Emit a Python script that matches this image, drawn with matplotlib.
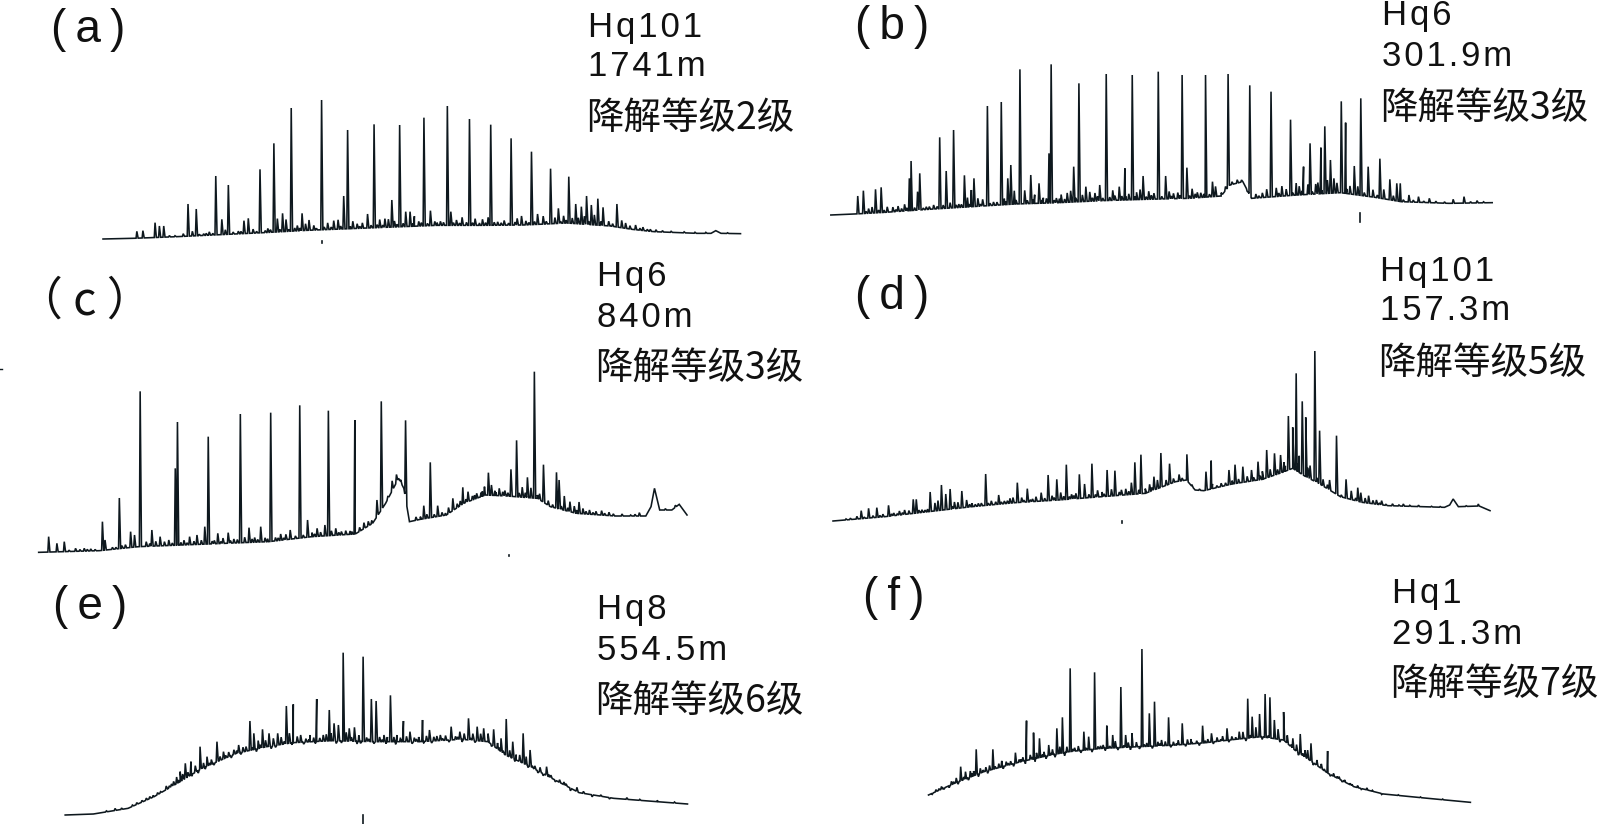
import numpy as np
import matplotlib
matplotlib.use("Agg")
import matplotlib.pyplot as plt

W, H = 1600, 824
INK = "#0e181e"
CJK = ["Noto Sans CJK SC", "DejaVu Sans"]
LAT = ["Liberation Sans", "DejaVu Sans"]

a_base_x = [30,100,200,300,400,500,600,700,800,900,1000,1100,1200,1250,1300,1400,1432,1443,1455,1500]
a_base_y = [447,445,440,434,428,421,416,411,406,406,405,399,408,418,425,430,430,422,430,431]
a_peak_x = [108,122,150,160,170,226,245,290,304,319,355,365,392,424,444,464,489,505,534,585,594,640,655,696,714,728,738,770,785,824,832,875,918,924,971,995,1018,1032,1062,1080,1104,1120,1133,1145,1156,1171,1183,1215]
a_peak_y = [424,422,398,408,408,342,357,258,388,285,392,385,238,160,370,54,370,390,30,318,120,372,103,330,105,365,365,83,362,48,365,87,382,104,145,378,185,372,236,355,260,342,350,318,345,326,352,342]
a_grass_x = [215,236,262,275,312,342,376,410,432,452,478,497,516,548,562,572,606,616,628,668,680,688,702,748,758,795,808,845,858,888,905,940,955,985,1005,1045,1072,1092,1112,1126,1140,1163,1196,1226,1235,1258,1275,1292,1320,
             183,196,252,268,283,330,348,384,404,416,438,458,472,484,522,540,556,578,600,622,648,662,675,708,722,745,764,778,800,815,838,852,868,882,898,912,932,948,965,980,1012,1025,1052,1085,1098,1150,1178,1205,1245,1268,1285,1305,1340,1370,1395,1420,1470]
a_grass_h = [8,14,5,10,14,8,12,12,40,36,16,20,14,20,26,28,22,14,16,24,26,24,18,30,14,12,12,16,24,20,18,10,14,20,12,24,18,22,16,18,24,30,14,22,16,14,10,6,4,
             4,3,4,6,5,6,7,5,6,8,7,6,9,8,5,8,7,9,7,6,8,9,7,8,10,9,10,7,8,9,8,7,9,8,7,8,9,7,6,9,7,9,8,6,9,10,12,8,10,6,5,6,3,3,3,3,2]

b_base_x = [25,80,150,250,350,450,550,650,750,850,925,945,975,995,1100,1200,1280,1340,1450,1550]
b_base_y = [495,492,487,478,470,462,458,452,448,445,438,405,395,445,435,428,442,455,460,458]
b_peak_x = [87,100,128,141,206,210,225,230,276,291,308,333,349,355,386,418,433,440,461,486,505,528,533,585,597,613,645,660,690,703,720,745,780,797,835,846,889,905,941,991,1040,1085,1115,1130,1155,1164,1177,1202,1212,1232,1247,1264,1291,1314,1330,1338,1358,1380,1405,1460,1485,1515]
b_peak_y = [438,422,418,412,385,333,425,370,262,363,240,376,420,385,168,156,385,345,58,375,400,310,43,350,100,410,405,72,410,355,75,378,65,378,75,353,75,395,72,106,125,209,350,280,293,229,330,154,218,348,145,350,326,388,400,400,435,440,445,448,440,452]
b_grass_x = [112,120,155,168,180,195,245,262,300,320,340,364,375,400,425,448,472,495,515,545,556,570,578,605,622,634,675,680,712,730,738,758,770,805,815,825,858,870,878,912,1005,1020,1030,1052,1065,1075,1098,1105,1125,1143,1148,1170,1185,1192,1222,1240,1275,1300,1322,
             106,135,148,175,188,200,218,238,252,270,284,314,326,344,370,392,408,428,452,478,492,512,522,540,552,564,590,628,640,652,668,696,706,726,752,764,788,810,830,852,865,885,898,925,935,950,962,972,985,1012,1058,1090,1112,1135,1158,1215,1255,1285,1345,1368,1392,1420,1440,1500,1530]
b_grass_h = [14,18,16,14,16,20,8,12,16,10,28,24,20,10,18,40,40,26,16,14,24,28,34,20,28,24,30,14,18,22,30,24,18,22,16,18,28,16,14,30,12,14,24,26,30,20,36,26,30,30,34,40,44,30,24,26,22,28,14,
             6,8,7,6,8,9,8,5,8,7,10,8,9,8,6,7,9,10,12,10,12,10,14,8,12,10,12,10,14,8,10,12,10,10,8,12,8,8,10,8,12,10,8,10,12,8,10,6,-4,6,10,8,12,8,10,14,10,8,6,6,4,5,4,4,3]

c_base_x = [20,160,250,350,450,550,650,750,790,820,850,862,875,900,960,1000,1050,1100,1170,1200,1260,1350,1420,1432,1440,1452,1480,1497,1515]
c_base_y = [577,572,560,555,550,545,530,522,490,430,355,385,485,478,465,430,405,408,415,440,460,468,468,440,385,450,450,433,465]
c_peak_x = [43,62,79,105,125,167,173,206,232,241,254,281,300,320,335,340,368,385,403,411,433,457,485,505,532,555,578,600,622,640,662,680,688,705,728,749,770,800,810,866,908,923,940,975,998,1010,1030,1048,1057,1064,1082,1109,1122,1147,1163,1184,1214,1220,1232,1245,1266,1290,1318]
c_peak_y = [530,550,545,565,565,485,540,414,515,525,94,510,530,540,325,186,530,525,500,230,520,518,162,503,500,158,522,510,136,480,505,495,152,505,512,180,488,420,124,181,437,307,437,415,382,395,400,380,338,375,385,328,241,352,35,314,337,360,408,425,426,450,452]
c_grass_x = [140,150,190,220,268,290,310,355,378,395,425,445,470,495,518,542,566,590,612,650,670,695,718,738,760,780,835,845,890,915,950,965,985,1020,1040,1072,1095,1135,1155,1175,1195,1255,1275,1305,1335,1365,1405,
             90,115,132,198,212,276,328,348,362,420,440,462,478,512,525,548,572,585,630,656,712,742,788,825,855,900,932,958,992,1005,1025,1043,1075,1090,1102,1128,1142,1170,1205,1225,1240,1260,1282,1298,1325,1345,1385,1395,1465,1488]
c_grass_h = [6,4,6,10,14,14,12,14,10,12,10,16,12,16,14,12,10,16,8,12,12,14,10,10,12,14,30,24,10,12,10,18,12,12,12,14,16,30,30,18,14,20,16,10,10,6,10,
             4,5,5,5,8,8,7,8,6,8,6,8,10,10,8,9,8,6,8,8,8,8,10,8,8,8,8,6,14,10,12,14,10,12,10,12,14,10,8,10,10,10,8,6,6,6,3,5,4,6]

d_base_x = [30,150,250,350,450,550,650,750,820,845,865,885,950,1020,1060,1090,1120,1150,1200,1250,1310,1440,1452,1460,1472,1520,1545]
d_base_y = [543,530,515,500,488,480,470,460,425,420,450,452,432,418,400,385,410,430,470,487,497,502,495,477,500,498,512]
d_peak_x = [95,112,131,158,183,195,215,222,254,280,290,300,327,338,382,412,438,455,478,510,526,546,568,598,610,627,662,680,718,726,740,770,786,806,846,890,902,943,957,975,995,1010,1030,1048,1062,1080,1090,1098,1112,1120,1141,1152,1175,1191,1213,1240,1247,1265,1283,1295,1345]
d_peak_y = [512,505,503,496,513,510,478,478,456,435,462,447,453,480,402,465,475,428,446,458,405,418,374,403,432,371,390,392,428,367,344,410,339,371,343,395,362,390,374,380,390,365,330,340,345,228,262,100,184,232,33,272,420,287,418,443,458,467,480,482,492]
d_grass_x = [70,85,122,145,170,205,235,265,272,310,318,350,365,395,425,445,465,490,498,535,555,580,590,640,650,672,695,705,750,760,778,798,815,828,905,925,965,985,1020,1038,1070,1105,1130,1160,1225,1257,1275,1320,1380,1518,
             60,102,138,165,178,190,228,242,248,305,345,358,372,388,405,418,432,470,485,518,540,562,575,585,620,635,655,690,712,735,765,835,858,875,915,935,950,1000,1015,1055,1073,1102,1125,1146,1170,1202,1235,1290,1305,1335,1360,1410,1430,1490]
d_grass_h = [4,8,6,8,8,10,8,24,30,20,18,10,8,12,8,16,14,8,14,14,22,14,16,20,14,20,16,18,14,22,26,16,12,20,14,10,12,16,24,22,28,50,40,20,26,14,10,6,4,6,
             3,4,5,6,4,6,8,6,8,8,8,6,8,6,8,6,8,6,6,8,8,10,8,10,10,8,8,10,10,12,10,8,4,4,6,8,10,10,12,14,16,24,30,14,12,6,8,5,3,3,3,2,2,2]

e_base_x = [35,100,180,240,300,350,430,500,560,650,750,850,950,1010,1050,1100,1150,1220,1300,1400,1470]
e_base_y = [525,522,505,470,425,385,340,320,308,302,305,305,298,305,345,375,410,458,475,485,492]
e_peak_x = [200,268,300,312,325,346,362,385,400,435,461,470,490,505,525,545,561,578,600,615,630,644,655,665,676,690,702,722,741,752,770,785,800,815,830,859,875,900,925,945,965,985,1000,1023,1040,1052,1067,1091,1107,1145,1215]
e_peak_y = [488,438,395,370,365,320,350,305,335,315,243,280,268,280,280,198,193,285,285,177,285,210,250,255,38,265,262,50,177,183,285,166,285,243,275,240,270,285,260,275,235,260,265,268,295,237,305,280,330,380,442]
e_grass_x = [150,230,255,285,292,306,318,335,354,372,392,412,424,445,452,480,497,515,533,552,570,590,608,622,637,648,683,695,712,730,760,778,793,808,822,840,850,868,885,892,912,935,955,975,993,1010,1032,1060,1075,1083,1098,1118,1130,1155,1175,1190,
             130,165,190,212,222,238,248,275,280,296,328,342,358,368,378,405,418,430,440,466,476,485,510,520,540,558,585,597,612,660,672,708,716,735,747,766,775,797,812,835,845,862,880,905,920,940,950,970,980,1018,1036,1045,1072,1102,1112,1125,1137,1150,1165,1185,1200,1230,1250,1270,1290,1330,1360,1400,1440]
e_grass_h = [6,6,4,12,20,18,14,20,14,14,12,14,14,14,14,24,20,22,22,30,18,10,12,10,20,22,26,12,18,12,14,14,14,12,16,12,14,16,12,14,14,10,18,20,22,24,18,20,16,20,24,10,14,8,8,6,
             3,4,4,5,6,5,6,6,8,8,-6,-8,-7,6,-6,8,-7,8,-6,8,-8,10,-8,-6,8,-6,-6,8,-6,-8,-6,-8,-6,8,-6,6,-6,-8,6,-6,8,-6,-6,6,-6,8,-8,6,-6,-6,8,8,-6,-6,6,-6,-6,6,-5,8,-8,6,-6,4,-4,5,3,4,3,3,2,2,2]

f_base_x = [50,120,200,300,380,430,520,620,720,800,880,950,1010,1040,1080,1130,1200,1280,1400,1515]
f_base_y = [465,430,395,365,345,335,325,320,315,308,298,290,300,330,360,400,440,462,475,487]
f_peak_x = [100,137,150,179,190,224,260,285,315,334,350,375,397,412,433,470,483,499,532,548,570,583,600,627,647,661,680,699,736,760,791,815,857,890,913,925,945,960,973,985,1010,1035,1055,1084,1129,1160,1190]
f_peak_y = [440,380,395,328,385,328,365,338,242,278,295,315,265,232,85,275,290,97,257,285,141,285,280,27,220,185,300,232,250,297,257,280,265,275,176,230,222,162,172,240,216,295,282,310,333,410,430]
f_grass_x = [70,85,112,125,163,172,205,215,240,248,272,295,305,325,342,362,385,405,424,445,455,515,522,555,590,612,640,670,690,712,725,750,775,805,830,845,870,900,935,995,1020,1045,1068,1075,1100,1112,1145,1175,1210,1235,
             60,78,92,106,118,130,145,158,168,185,198,210,230,252,265,280,300,312,330,338,358,368,380,392,418,440,462,476,492,508,528,540,562,578,596,620,633,655,675,705,720,745,762,782,798,820,840,862,880,908,920,952,968,1000,1030,1050,1062,1090,1120,1136,1155,1168,1195,1220,1250,1275,1320,1380,1440]
f_grass_h = [6,8,10,14,18,14,12,14,12,18,10,8,12,14,16,14,16,20,16,10,14,8,10,20,14,14,10,12,12,10,14,14,8,10,12,14,10,20,30,30,24,20,20,26,16,14,8,6,6,6,
             -3,5,-4,-6,6,-7,8,-7,8,-8,6,-8,7,-7,6,-8,7,-9,6,-9,7,-8,6,-9,-10,7,-7,6,-8,7,-7,6,-7,6,-8,-7,6,-7,6,-6,5,-6,6,-7,6,-6,5,-6,6,-8,8,-8,6,-8,6,-8,6,-7,5,-5,5,-4,4,-3,3,-3,2,2,2]

labels = ["(\u2009a\u2009)", "(\u2009b\u2009)", "（ c ）", "(\u2009d\u2009)", "(\u2009e\u2009)", "(\u2009f\u2009)"]
wells = ["Hq101", "Hq6", "Hq6", "Hq101", "Hq8", "Hq1"]
depths = ["1741m", "301.9m", "840m", "157.3m", "554.5m", "291.3m"]
grades = ["降解等级2级", "降解等级3级", "降解等级3级", "降解等级5级", "降解等级6级", "降解等级7级"]

# small stray marks on the scan: panel, x, top, bottom
mark_panel = [0, 1, 2, 3, 4]
mark_x = [535, 1245, 1105, 696, 722]
mark_top = [454, 489, 584, 542, 524]
mark_bottom = [460, 516, 588, 548, 552]

panels = [
    (a_base_x, a_base_y, a_peak_x, a_peak_y, a_grass_x, a_grass_h),
    (b_base_x, b_base_y, b_peak_x, b_peak_y, b_grass_x, b_grass_h),
    (c_base_x, c_base_y, c_peak_x, c_peak_y, c_grass_x, c_grass_h),
    (d_base_x, d_base_y, d_peak_x, d_peak_y, d_grass_x, d_grass_h),
    (e_base_x, e_base_y, e_peak_x, e_peak_y, e_grass_x, e_grass_h),
    (f_base_x, f_base_y, f_peak_x, f_peak_y, f_grass_x, f_grass_h),
]
# axes box of each trace on the page: left, top, width, height (px)
boxes = [(90,90,680,160), (820,50,680,190), (30,360,680,210),
         (820,340,680,200), (50,640,680,184), (910,640,580,184)]
label_xy = [(51,30), (855,27), (17,301), (855,297), (53,607), (863,598)]
text_x = [588, 1382, 597, 1380, 597, 1392]
text_y = [(27,66,118), (15,57,108), (276,318,368), (271,311,363), (609,650,701), (593,634,684)]


def trace(bx, by, px, py, gx, gh):
    """Join baseline, main peaks and small peaks into one chromatogram line."""
    n = min(len(gx), len(gh))
    m = min(len(px), len(py))
    px, py = np.asarray(px[:m]), np.asarray(py[:m])
    gx, gh = np.asarray(gx[:n]), np.asarray(gh[:n])
    tops_x = np.r_[px, gx]
    tops_y = np.r_[py, np.interp(gx, bx, by) - gh]
    feet_l = tops_x - 1.8
    feet_r = tops_x + 3.0
    x = np.r_[bx, tops_x, feet_l, feet_r]
    y = np.r_[by, tops_y, np.interp(feet_l, bx, by), np.interp(feet_r, bx, by)]
    o = np.argsort(x, kind="stable")
    return x[o], y[o]


def spaced(s):
    return "\u200a".join(s)


fig = plt.figure(figsize=(W/100, H/100), dpi=100, facecolor="white")
axes = []
for data, (l, t, w, h) in zip(panels, boxes):
    ax = fig.add_axes([l/W, 1-(t+h)/H, w/W, h/H])
    ax.set_xlim(0, 1568)
    ax.set_ylim(h*3, 0)
    ax.axis("off")
    x, y = trace(*data)
    ax.plot(x, y, color=INK, lw=1.15, solid_joinstyle="miter")
    axes.append(ax)

for p, mx, t0, b0 in zip(mark_panel, mark_x, mark_top, mark_bottom):
    axes[p].plot([mx, mx], [t0, b0], color=INK, lw=1.2, clip_on=False)
fig.add_artist(plt.Line2D([0, 2/W], [1-369/H, 1-369/H], color=INK, lw=1))

for i in range(6):
    fig.text(label_xy[i][0]/W, 1-label_xy[i][1]/H, labels[i], fontsize=33, color="#111111",
             family=CJK if i == 2 else LAT, ha="left", va="center")
    fig.text(text_x[i]/W, 1-text_y[i][0]/H, spaced(wells[i]), fontsize=25, color="#111111", family=LAT, ha="left", va="center")
    fig.text(text_x[i]/W, 1-text_y[i][1]/H, spaced(depths[i]), fontsize=25, color="#111111", family=LAT, ha="left", va="center")
    fig.text((text_x[i]-2)/W, 1-text_y[i][2]/H, grades[i], fontsize=27, color="#111111", family=CJK, ha="left", va="center")

fig.savefig("out.png", dpi=100, facecolor="white")
